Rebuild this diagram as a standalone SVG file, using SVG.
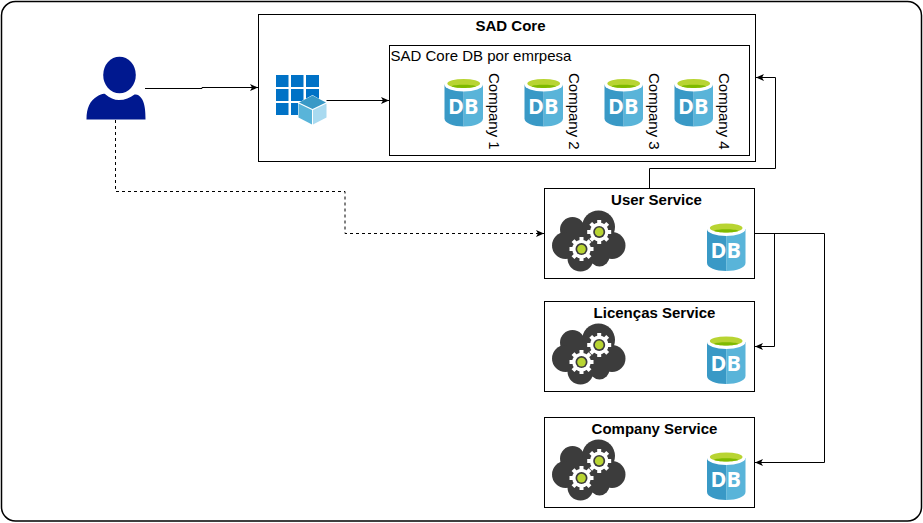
<svg xmlns="http://www.w3.org/2000/svg" xmlns:xlink="http://www.w3.org/1999/xlink" width="923" height="523" viewBox="0 0 923 523">
<style>
.box{fill:#fff;stroke:#000;stroke-width:1}
.c{fill:none;stroke:#000;stroke-width:1}
.d{stroke-dasharray:3 3}
text{font-family:"Liberation Sans",Arial,sans-serif;font-size:15px;fill:#000}
.t{font-weight:bold;text-anchor:middle}
</style>
<defs>
<marker id="a" markerUnits="userSpaceOnUse" markerWidth="9" markerHeight="8" refX="8" refY="4" orient="auto"><path d="M0 0.500L8 4L0 7.500L2 4Z" fill="#000"/></marker>
<symbol id="db" width="39" height="50" viewBox="0 0 39 50" overflow="visible">
<path d="M0 7V41C0 45.500 8.700 49 19.200 49V7Z" fill="#3999c6"/>
<path d="M19.200 7V49C29.800 49 38.500 45.500 38.500 41V7Z" fill="#59b4d9"/>
<ellipse cx="19.200" cy="7" rx="19.200" ry="7" fill="#fff"/>
<ellipse cx="19.200" cy="6" rx="16.300" ry="4.500" fill="#b8d432"/>
<path d="M7 8.800C10 6.800 28 6.800 31.500 8.800C28 11 10 11 7 8.800Z" fill="#7fba00"/>
<text x="18.800" y="36.300" text-anchor="middle" style="font-family:'Open Sans','Liberation Sans',sans-serif;font-size:21.500px;font-weight:bold;fill:#fff">DB</text>
</symbol>
<g id="gear">
<g stroke="#fff" stroke-width="4"><path d="M0 -12V12M-12 0H12M-8.500 -8.500L8.500 8.500M-8.500 8.500L8.500 -8.500"/></g>
<circle r="9.300" fill="#fff"/>
<circle r="6" fill="#3c3c3c"/><circle r="4.300" fill="#b8d432"/>
</g>
<symbol id="cloud" width="75" height="63" viewBox="0 0 75 63" overflow="visible">
<g fill="#3c3c3c">
<circle cx="21" cy="20" r="12.500"/><circle cx="47" cy="17.500" r="16.500"/><circle cx="14" cy="36" r="13.500"/><circle cx="60.500" cy="36" r="13.500"/><circle cx="29" cy="49" r="13"/><circle cx="48" cy="47" r="10"/><rect x="15" y="20" width="45" height="28"/>
</g>
<use href="#gear" x="47.700" y="22.400"/>
<use href="#gear" x="30" y="39.600"/>
</symbol>
</defs>
<rect width="923" height="523" fill="#fff"/>
<rect id="frame" x="1.500" y="1.500" width="920" height="519.500" rx="14" fill="#fff" stroke="#000" stroke-width="1.500"/>
<g id="sad-core">
<rect class="box" x="258.500" y="14.500" width="497" height="147"/>
<text class="t" x="510.500" y="31">SAD Core</text>
</g>
<g id="sad-core-db">
<rect class="box" x="389.500" y="45.500" width="360" height="110"/>
<text x="390.500" y="61">SAD Core DB por emrpesa</text>
</g>
<g id="company-1"><use href="#db" x="444.500" y="77.500"/><text transform="translate(488.500 73) rotate(90)">Company 1</text></g>
<g id="company-2"><use href="#db" x="524.500" y="77.500"/><text transform="translate(568.500 73) rotate(90)">Company 2</text></g>
<g id="company-3"><use href="#db" x="604.500" y="77.500"/><text transform="translate(648.500 73) rotate(90)">Company 3</text></g>
<g id="company-4"><use href="#db" x="674.500" y="77.500"/><text transform="translate(718.500 73) rotate(90)">Company 4</text></g>
<g id="user">
<ellipse cx="119.500" cy="75" rx="16.300" ry="18.300" fill="#00188f"/>
<path d="M86.500 119.500C86.500 108 90 100.500 97 96.500C100.500 94.500 103 93.500 105 94C110 98 114 100 119 100C125 100 130 98 134.500 94.500C137 94 139.500 95 142 99C145 104 145.500 112 145.500 119.500Z" fill="#00188f"/>
</g>
<g id="app">
<g fill="#0072c6">
<rect x="276" y="75" width="12.500" height="12"/><rect x="291" y="75" width="12.500" height="12"/><rect x="306" y="75" width="13" height="12"/>
<rect x="276" y="89" width="12.500" height="12"/><rect x="291" y="89" width="12.500" height="12"/><rect x="306" y="89" width="13" height="12"/>
<rect x="276" y="103" width="12.500" height="12"/><rect x="291" y="103" width="12.500" height="12"/>
</g>
<path d="M312.500 95L326.500 103V118L312.500 125L298 118V103Z" fill="#fff"/>
<path d="M312.500 95.500L326 102.500L312.500 109L299 102.500Z" fill="#3999c6"/>
<path d="M298.500 103.500L312 110V124.500L298.500 117.500Z" fill="#59b4d9"/>
<path d="M313 110L326.500 103.500V117.500L313 124.500Z" fill="#a9daf0"/>
</g>
<g id="user-service">
<rect class="box" x="544.500" y="188.500" width="210" height="90"/>
<text class="t" x="656.500" y="205">User Service</text>
<use href="#cloud" x="551.500" y="209.500"/><use href="#db" x="707" y="222"/>
</g>
<g id="licencas-service">
<rect class="box" x="544.500" y="301.500" width="210" height="90"/>
<text class="t" x="654.500" y="318">Licenças Service</text>
<use href="#cloud" x="551.500" y="322.500"/><use href="#db" x="707" y="335"/>
</g>
<g id="company-service">
<rect class="box" x="544.500" y="417.500" width="210" height="90"/>
<text class="t" x="654.500" y="434">Company Service</text>
<use href="#cloud" x="551.500" y="438.500"/><use href="#db" x="707" y="451"/>
</g>
<g id="connectors">
<path class="c" d="M145 88.500H202V87.500H258" marker-end="url(#a)"/>
<path class="c" d="M326.500 100.500H389" marker-end="url(#a)"/>
<path class="c d" d="M115.500 120V191.500H345V233.500H544" marker-end="url(#a)"/>
<path class="c" d="M649.500 188V168.500H775.500V77.500H756" marker-end="url(#a)"/>
<path class="c" d="M754.500 233.500H774.500V346.500H755" marker-end="url(#a)"/>
<path class="c" d="M754.500 233.500H824.500V462.500H755" marker-end="url(#a)"/>
</g>
</svg>
